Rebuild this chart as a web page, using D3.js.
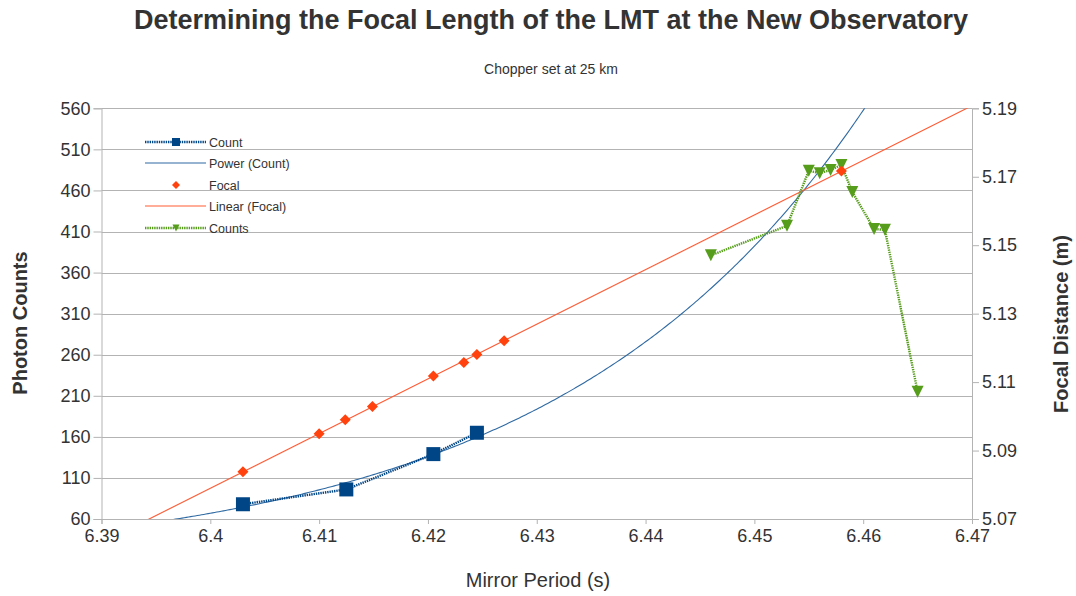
<!DOCTYPE html>
<html>
<head>
<meta charset="utf-8">
<script src="https://cdn.jsdelivr.net/npm/d3@7"></script>
<style>
  html, body { margin: 0; padding: 0; background: #fff; }
  svg { display: block; font-family: "Liberation Sans", Arial, sans-serif; }
</style>
</head>
<body>
<svg id="chart" width="1076" height="596"></svg>
<script>
// Axis ticks
const periodTicks = [6.39, 6.40, 6.41, 6.42, 6.43, 6.44, 6.45, 6.46, 6.47];
const countTicks = [60, 110, 160, 210, 260, 310, 360, 410, 460, 510, 560];
const focalTicks = [5.07, 5.09, 5.11, 5.13, 5.15, 5.17, 5.19];

// Series "Count" (photon counts, left axis)
const countPeriod = [6.403, 6.4125, 6.4205, 6.4245];
const countValues = [78, 96, 139, 165];

// Series "Focal" (focal distance in m, right axis)
const focalPeriod = [6.403, 6.410, 6.4124, 6.4149, 6.4205, 6.4233, 6.4245, 6.427, 6.458];
const focalValues = [5.0838, 5.0949, 5.0990, 5.1029, 5.1118, 5.1157, 5.1181, 5.1221, 5.1717];

// Series "Counts" (photon counts, left axis)
const countsPeriod = [6.446, 6.453, 6.455, 6.456, 6.457, 6.458, 6.459, 6.461, 6.462, 6.465];
const countsValues = [381, 417, 484, 481, 485, 491, 458, 413, 412, 215];

const C_COUNT = "#004586", C_FOCAL = "#ff420e", C_COUNTS = "#579d1c";
const C_TEXT = "#333333", C_GRID = "#b3b3b3";

const svg = d3.select("#chart");
const plot = { left: 101.5, right: 972, top: 108.3, bottom: 519 };

const x = d3.scaleLinear().domain([6.39, 6.47]).range([plot.left, plot.right]);
const yL = d3.scaleLinear().domain([60, 560]).range([plot.bottom, plot.top]);
const yR = d3.scaleLinear().domain([5.07, 5.19]).range([plot.bottom, plot.top]);

// Titles
svg.append("text").attr("x", 551).attr("y", 29).attr("text-anchor", "middle")
  .attr("font-size", 27).attr("font-weight", "bold").attr("fill", C_TEXT)
  .text("Determining the Focal Length of the LMT at the New Observatory");
svg.append("text").attr("x", 551).attr("y", 74).attr("text-anchor", "middle")
  .attr("font-size", 14).attr("fill", C_TEXT).text("Chopper set at 25 km");

// Horizontal grid
svg.append("g").selectAll("line").data(countTicks).join("line")
  .attr("x1", plot.left).attr("x2", plot.right)
  .attr("y1", d => Math.round(yL(d)) + 0.5).attr("y2", d => Math.round(yL(d)) + 0.5)
  .attr("stroke", C_GRID).attr("stroke-width", 1);

// Axes
function styleAxis(g) {
  g.selectAll(".domain").attr("stroke", C_GRID);
  g.selectAll(".tick line").attr("stroke", C_GRID);
  g.selectAll(".tick text").attr("fill", C_TEXT).attr("font-size", 18)
    .attr("font-family", "'Liberation Sans', Arial, sans-serif");
}
svg.append("g").attr("transform", `translate(0,${plot.bottom})`)
  .call(d3.axisBottom(x).tickValues(periodTicks).tickFormat(d3.format("")).tickSizeOuter(0).tickSize(5).tickPadding(5))
  .call(styleAxis);
svg.append("g").attr("transform", `translate(${plot.left},0)`)
  .call(d3.axisLeft(yL).tickValues(countTicks).tickSizeOuter(0).tickSize(8).tickPadding(3))
  .call(styleAxis);
svg.append("g").attr("transform", `translate(${plot.right},0)`)
  .call(d3.axisRight(yR).tickValues(focalTicks).tickFormat(d3.format(".2f")).tickSizeOuter(0).tickSize(7).tickPadding(3))
  .call(styleAxis);

// Axis titles
svg.append("text").attr("x", 538).attr("y", 587).attr("text-anchor", "middle")
  .attr("font-size", 20).attr("fill", C_TEXT).text("Mirror Period (s)");
svg.append("text").attr("transform", "translate(27,323) rotate(-90)").attr("text-anchor", "middle")
  .attr("font-size", 20).attr("font-weight", "bold").attr("fill", C_TEXT).text("Photon Counts");
svg.append("text").attr("transform", "translate(1068,324) rotate(-90)").attr("text-anchor", "middle")
  .attr("font-size", 20).attr("font-weight", "bold").attr("fill", C_TEXT).text("Focal Distance (m)");

// Clip region for plotted data
svg.append("defs").append("clipPath").attr("id", "plotClip").append("rect")
  .attr("x", plot.left).attr("y", plot.top)
  .attr("width", plot.right - plot.left).attr("height", plot.bottom - plot.top);
const area = svg.append("g").attr("clip-path", "url(#plotClip)");

// Trend lines: power regression for Count, linear regression for Focal
function linFit(xs, ys) {
  const n = xs.length, mx = d3.mean(xs), my = d3.mean(ys);
  let sxy = 0, sxx = 0;
  for (let i = 0; i < n; i++) { sxy += (xs[i] - mx) * (ys[i] - my); sxx += (xs[i] - mx) ** 2; }
  const b = sxy / sxx;
  return { a: my - b * mx, b };
}
const pw = linFit(countPeriod.map(Math.log), countValues.map(Math.log));
const powerFn = t => Math.exp(pw.a) * Math.pow(t, pw.b);
const lf = linFit(focalPeriod, focalValues);
const linearFn = t => lf.a + lf.b * t;

const samples = d3.range(0, 401).map(i => 6.39 + i * 0.08 / 400);
area.append("path").datum(samples)
  .attr("d", d3.line().x(d => x(d)).y(d => yL(powerFn(d))))
  .attr("fill", "none").attr("stroke", "#2f6aa3").attr("stroke-width", 1.1);
area.append("path").datum([6.39, 6.47])
  .attr("d", d3.line().x(d => x(d)).y(d => yR(linearFn(d))))
  .attr("fill", "none").attr("stroke", "#ff5a33").attr("stroke-width", 1.1);

// Dotted series lines
const dotted = "1.4 0.9";
area.append("path").datum(d3.zip(countPeriod, countValues))
  .attr("d", d3.line().x(d => x(d[0])).y(d => yL(d[1])))
  .attr("fill", "none").attr("stroke", C_COUNT).attr("stroke-width", 2.4).attr("stroke-dasharray", dotted);
area.append("path").datum(d3.zip(countsPeriod, countsValues))
  .attr("d", d3.line().x(d => x(d[0])).y(d => yL(d[1])))
  .attr("fill", "none").attr("stroke", C_COUNTS).attr("stroke-width", 2.4).attr("stroke-dasharray", dotted);

// Marker shapes
const squarePath = s => `M${-s/2},${-s/2}h${s}v${s}h${-s}Z`;
const diamondPath = s => `M0,${-s/2}L${s/2},0L0,${s/2}L${-s/2},0Z`;
const triDownPath = s => `M${-s/2},${-s/2}L${s/2},${-s/2}L0,${s/2}Z`;

area.append("g").selectAll("path").data(d3.zip(countPeriod, countValues)).join("path")
  .attr("transform", d => `translate(${x(d[0])},${yL(d[1])})`)
  .attr("d", squarePath(14)).attr("fill", C_COUNT);
area.append("g").selectAll("path").data(d3.zip(countsPeriod, countsValues)).join("path")
  .attr("transform", d => `translate(${x(d[0])},${yL(d[1])})`)
  .attr("d", triDownPath(12)).attr("fill", C_COUNTS);
area.append("g").selectAll("path").data(d3.zip(focalPeriod, focalValues)).join("path")
  .attr("transform", d => `translate(${x(d[0])},${yR(d[1])})`)
  .attr("d", diamondPath(11)).attr("fill", C_FOCAL);

// Legend
const legendItems = [
  { label: "Count", color: C_COUNT, dash: dotted, width: 2.4, marker: squarePath(8) },
  { label: "Power (Count)", color: "#2f6aa3", dash: null, width: 1.1, marker: null },
  { label: "Focal", color: C_FOCAL, dash: null, width: 0, marker: diamondPath(8) },
  { label: "Linear (Focal)", color: "#ff5a33", dash: null, width: 1.1, marker: null },
  { label: "Counts", color: C_COUNTS, dash: dotted, width: 2.4, marker: triDownPath(7) }
];
const legendY = [142, 163, 185, 206, 228];
const lg = svg.append("g");
legendItems.forEach((it, i) => {
  const g = lg.append("g").attr("transform", `translate(145,${legendY[i]})`);
  if (it.width > 0) {
    g.append("line").attr("x1", 0).attr("x2", 61).attr("y1", 0).attr("y2", 0)
      .attr("stroke", it.color).attr("stroke-width", it.width)
      .attr("stroke-dasharray", it.dash);
  }
  if (it.marker) {
    g.append("path").attr("transform", "translate(31,0)").attr("d", it.marker).attr("fill", it.color);
  }
  g.append("text").attr("x", 64).attr("y", 4.5).attr("font-size", 12.5).attr("fill", C_TEXT).text(it.label);
});
</script>
</body>
</html>
